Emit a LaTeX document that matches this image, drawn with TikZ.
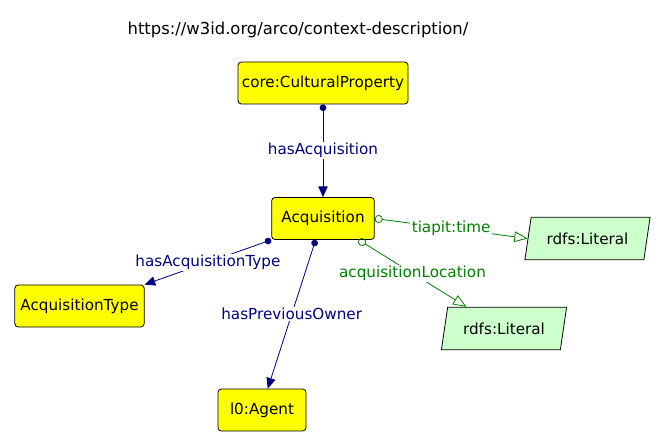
\documentclass[tikz,border=0pt]{standalone}
\usepackage{fontspec}
\setmainfont{DejaVu Sans}
\usetikzlibrary{arrows.meta,positioning,shapes.geometric}
\definecolor{classyellow}{RGB}{255,255,0}
\definecolor{litgreen}{RGB}{204,255,204}
\definecolor{objblue}{RGB}{0,0,128}
\definecolor{datagreen}{RGB}{0,128,0}

\begin{document}
\begin{tikzpicture}[x=0.75pt, y=-0.75pt, >=Latex, font=\fontsize{11.4}{13}\selectfont,
    class/.style = {draw, rectangle, rounded corners=2.5pt, fill=classyellow, minimum height=31.5pt, inner sep=1pt, line width=0.6pt},
    literal/.style = {draw, trapezium, trapezium left angle=72, trapezium right angle=108, trapezium stretches=true,
      fill=litgreen, minimum height=32pt, minimum width=94pt, inner sep=1pt, line width=0.6pt},
    objprop/.style = {draw=objblue, line width=0.6pt, {Circle[objblue,length=5pt]}-{Triangle[objblue,length=8pt,width=7pt]}},
    dataprop/.style = {draw=datagreen, line width=0.6pt, {Circle[open,datagreen,length=6pt]}-{Triangle[open,datagreen,length=10pt,width=8pt]}},
    lbl/.style = {fill=white, inner sep=1pt}]
    \useasboundingbox (0,0) rectangle (666,448);
    % title
    \node [font=\fontsize{12.3}{14}\selectfont] (title) at (298,30) {https://w3id.org/arco/context-description/};
    % classes
    \node [class, minimum width=127.5pt] (cultprop) at (323,83) {core:CulturalProperty};
    \node [class, minimum width=77pt] (acq) at (323,218.5) {Acquisition};
    \node [class, minimum width=97pt] (acqtype) at (79.5,306) {AcquisitionType};
    \node [class, minimum width=66pt] (agent) at (262,410) {l0:Agent};
    % literals
    \node [literal] (timelit) at (587.5,238.5) {rdfs:Literal};
    \node [literal] (loclit) at (504,328.5) {rdfs:Literal};
    % object properties
    \draw [objprop] (cultprop.south) -- node [lbl, text=objblue] {hasAcquisition} (acq.north);
    \draw [objprop] (acq.south west) -- node [lbl, text=objblue] {hasAcquisitionType} (acqtype.north east);
    \draw [objprop] (acq.-109) -- node [lbl, text=objblue] {hasPreviousOwner} (agent.75);
    % data properties
    \draw [dataprop] (acq.east) -- node [lbl, text=datagreen] {tiapit:time} (timelit.west);
    \draw [dataprop] (acq.-31) -- node [lbl, text=datagreen] {acquisitionLocation} (loclit.150);
  \end{tikzpicture}
\end{document}
